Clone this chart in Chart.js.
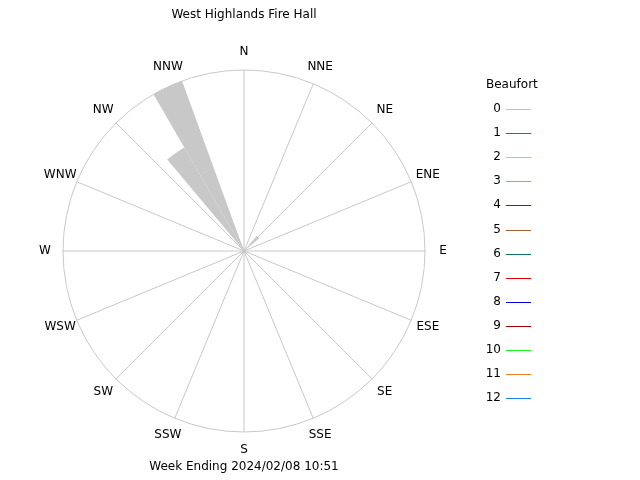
<!DOCTYPE html>
<html>
<head>
<meta charset="utf-8">
<script src="https://cdn.jsdelivr.net/npm/chart.js@4"></script>
<style>body{margin:0;background:#fff}</style>
</head>
<body>
<canvas id="c" width="640" height="480"></canvas>
<script>
// 10 degree direction bins, bin 0 = 0-10 deg from north
const binLabels = Array.from({length: 36}, (_, i) => `${i * 10}`);
const frequency = [0, 0, 0, 0, 11, 0, 0, 0, 0, 0, 0, 0, 0, 0, 0, 0, 0, 0,
  0, 0, 0, 0, 0, 0, 0, 0, 0, 0, 0, 0, 0, 0, 66, 100, 0, 0];
const compass = [`N`, `NNE`, `NE`, `ENE`, `E`, `ESE`, `SE`, `SSE`, `S`, `SSW`, `SW`, `WSW`, `W`, `WNW`, `NW`, `NNW`];
const beaufort = [`0`, `1`, `2`, `3`, `4`, `5`, `6`, `7`, `8`, `9`, `10`, `11`, `12`];
const beaufortColors = [`#c0c0c0`, `#e000e0`, `#40f0f0`, `#f08080`, `#7000e0`, `#a06030`,
  `#107060`, `#e00000`, `#0000e0`, `#a00000`, `#20f020`, `#f08020`, `#2080f0`];

const font = `12px "DejaVu Sans", sans-serif`;

const decor = {
    id: `decor`,
    beforeDatasetsDraw(chart) {
        const ctx = chart.ctx;
        const r = chart.scales.r;
        const cx = r.xCenter, cy = r.yCenter, rad = r.drawingArea;
        ctx.save();
        ctx.strokeStyle = `#c8c8c8`;
        ctx.lineWidth = 1;
        ctx.beginPath();
        ctx.arc(cx, cy, rad, 0, Math.PI * 2);
        ctx.stroke();
        compass.forEach((_, i) => {
            const a = i * Math.PI / 8;
            ctx.beginPath();
            ctx.moveTo(cx, cy);
            ctx.lineTo(cx + rad * Math.sin(a), cy - rad * Math.cos(a));
            ctx.stroke();
        });
        ctx.restore();
    },
    afterDraw(chart) {
        const ctx = chart.ctx;
        const r = chart.scales.r;
        const cx = r.xCenter, cy = r.yCenter, rad = r.drawingArea;
        ctx.save();
        ctx.fillStyle = `#000`;
        ctx.font = font;
        ctx.textAlign = `center`;
        ctx.textBaseline = `middle`;
        compass.forEach((name, i) => {
            const a = i * Math.PI / 8;
            const lr = rad + 18;
            ctx.fillText(name, cx + lr * Math.sin(a), cy - lr * Math.cos(a));
        });
        ctx.fillText(`West Highlands Fire Hall`, cx, 15);
        ctx.fillText(`Week Ending 2024/02/08 10:51`, cx, 467);
        ctx.textAlign = `left`;
        ctx.fillText(`Beaufort`, 486, 85);
        ctx.lineWidth = 1;
        beaufort.forEach((b, i) => {
            const y = Math.round(109 + i * 24.1);
            ctx.textAlign = `right`;
            ctx.fillStyle = `#000`;
            ctx.fillText(b, 501, y);
            ctx.strokeStyle = beaufortColors[i];
            ctx.beginPath();
            ctx.moveTo(506, y + 0.5);
            ctx.lineTo(531, y + 0.5);
            ctx.stroke();
        });
        ctx.restore();
    },
};

new Chart(document.getElementById(`c`), {
    type: `polarArea`,
    data: {
        labels: binLabels,
        datasets: [{
            data: frequency,
            backgroundColor: `#c8c8c8`,
            borderWidth: 0,
        }],
    },
    options: {
        responsive: false,
        animation: false,
        layout: { padding: { left: 63, right: 215, top: 70, bottom: 48 } },
        plugins: { legend: { display: false }, tooltip: { enabled: false } },
        scales: {
            r: {
                min: 0,
                max: 100,
                startAngle: 0,
                ticks: { display: false },
                grid: { display: false },
                angleLines: { display: false },
                pointLabels: { display: false },
            },
        },
    },
    plugins: [decor],
});
</script>
</body>
</html>
